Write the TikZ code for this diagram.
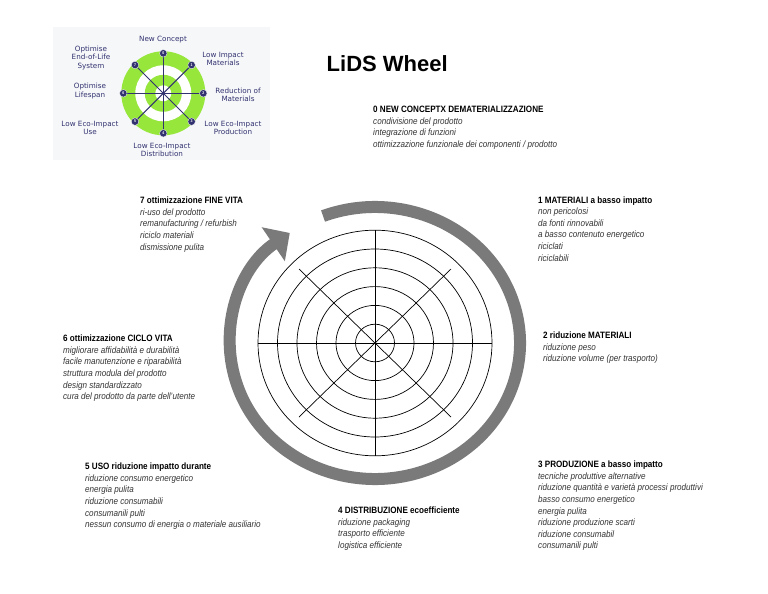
\documentclass[tikz,border=0pt]{standalone}
\usepackage{fontspec}
\setmainfont{Liberation Sans}[FakeStretch=0.88]
\newfontfamily\titlefont{Liberation Sans}
\newfontfamily\insetfont{DejaVu Sans}
\usetikzlibrary{arrows.meta,calc}
\definecolor{lidsgreen}{RGB}{150,230,60}
\definecolor{lidsnavy}{RGB}{50,50,112}
\definecolor{bandgray}{RGB}{122,122,122}
\definecolor{insetbg}{RGB}{246,247,249}
\tikzset{
  blk/.style={anchor=north west, align=left, inner sep=0pt,
    font=\fontsize{9.2}{11.6}\selectfont\bfseries},
  ring/.style={draw=black, line width=0.7pt},
  band/.style={draw=bandgray, line width=12pt,
    -{Triangle[length=20pt, width=40pt]}},
  spk/.style={draw=lidsnavy, line width=1pt},
  num/.style={circle, fill=lidsnavy, draw=white, line width=0.3pt, inner sep=0pt,
    minimum size=7.5pt, text=white, font=\fontsize{4}{4}\selectfont\bfseries},
  lbl/.style={align=center, inner sep=0pt, text=lidsnavy,
    font=\insetfont\fontsize{7.2}{8.5}\selectfont}
}
\newcommand{\itm}{\mdseries\itshape\color{black!80}}

\begin{document}
\begin{tikzpicture}[x=1pt, y=1pt]
  \useasboundingbox (0,0) rectangle (768,-594);

  % inset: small wheel
  \coordinate (ic) at (163.3,-93.3);
  \fill[insetbg] (53,-27) rectangle (270,-160);
  \fill[lidsgreen] (ic) circle[radius=42];
  \fill[white] (ic) circle[radius=28];
  \fill[lidsgreen] (ic) circle[radius=18.5];
  \fill[white] (ic) circle[radius=8];
  \foreach \k in {0,...,7}
    \coordinate (s\k) at ($(ic)+({90-45*\k}:40)$);
  \foreach \k [evaluate=\k as \j using int(\k+4)] in {0,...,3}
    \draw[spk] (s\k) -- (s\j);
  \foreach \k in {0,...,7}
    \node[num] (n\k) at (s\k) {\k};
  \fill[lidsnavy] (ic) circle[radius=1.3];
  \node[lbl] (t0) at (163,-39.5) {New Concept};
  \node[lbl] (t1) at (223,-59) {Low Impact\\Materials};
  \node[lbl] (t2) at (238,-95) {Reduction of\\Materials};
  \node[lbl] (t3) at (233,-128) {Low Eco-Impact\\Production};
  \node[lbl] (t4) at (162,-150) {Low Eco-Impact\\Distribution};
  \node[lbl] (t5) at (90,-128) {Low Eco-Impact\\Use};
  \node[lbl] (t6) at (90,-91) {Optimise\\Lifespan};
  \node[lbl] (t7) at (91,-58) {Optimise\\End-of-Life\\System};

  % title
  \node[anchor=west, inner sep=0pt, font=\titlefont\fontsize{22}{22}\selectfont\bfseries]
    (title) at (326.5,-64) {LiDS Wheel};

  % big wheel
  \coordinate (c) at (375,-343);
  \foreach \k in {1,...,6}
    \draw[ring] (c) ellipse[x radius=19.5*\k, y radius=18.8*\k];
  \draw[ring] ($(c)+(-117,0)$) -- ($(c)+(117,0)$);
  \draw[ring] ($(c)+(0,113)$) -- ($(c)+(0,-113)$);
  \draw[ring] ($(c)+(-76,74)$) -- ($(c)+(76,-74)$);
  \draw[ring] ($(c)+(76,74)$) -- ($(c)+(-76,-74)$);
  % turning arrow
  \draw[band] (c) ++(111:145 and 136)
    arc[start angle=111, end angle=-234, x radius=145, y radius=136];

  % text blocks
  \node[blk] (b0) at (373,-105.8) {0 NEW CONCEPTX DEMATERIALIZZAZIONE\\
    \itm condivisione del prodotto\\ \itm integrazione di funzioni\\
    \itm ottimizzazione funzionale dei componenti / prodotto};
  \node[blk] (b1) at (538,-196.3) {1 MATERIALI a basso impatto\\
    \itm non pericolosi\\ \itm da fonti rinnovabili\\
    \itm a basso contenuto energetico\\ \itm riciclati\\ \itm riciclabili};
  \node[blk] (b2) at (543,-331.8) {2 riduzione MATERIALI\\
    \itm riduzione peso\\ \itm riduzione volume (per trasporto)};
  \node[blk] (b3) at (538,-460.8) {3 PRODUZIONE a basso impatto\\
    \itm tecniche produttive alternative\\
    \itm riduzione quantità e varietà processi produttivi\\
    \itm basso consumo energetico\\ \itm energia pulita\\
    \itm riduzione produzione scarti\\ \itm riduzione consumabil\\
    \itm consumanili pulti};
  \node[blk] (b4) at (338,-506.8) {4 DISTRIBUZIONE ecoefficiente\\
    \itm riduzione packaging\\ \itm trasporto efficiente\\
    \itm logistica efficiente};
  \node[blk] (b5) at (85,-462.8) {5 USO riduzione impatto durante\\
    \itm riduzione consumo energetico\\ \itm energia pulita\\
    \itm riduzione consumabili\\ \itm consumanili pulti\\
    \itm nessun consumo di energia o materiale ausiliario};
  \node[blk] (b6) at (63,-334.8) {6 ottimizzazione CICLO VITA\\
    \itm migliorare affidabilità e durabilità\\
    \itm facile manutenzione e riparabilità\\
    \itm struttura modula del prodotto\\ \itm design standardizzato\\
    \itm cura del prodotto da parte dell'utente};
  \node[blk] (b7) at (140,-196.8) {7 ottimizzazione FINE VITA\\
    \itm ri-uso del prodotto\\ \itm remanufacturing / refurbish\\
    \itm riciclo materiali\\ \itm dismissione pulita};
\end{tikzpicture}
\end{document}
